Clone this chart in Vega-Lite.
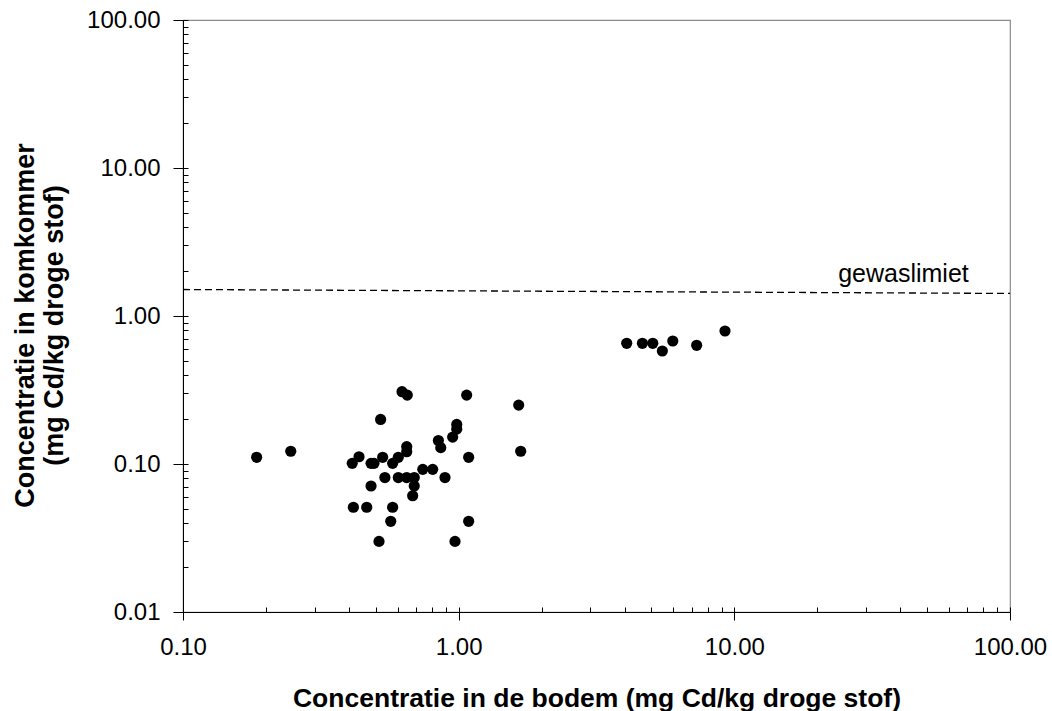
{
  "$schema": "https://vega.github.io/schema/vega-lite/v6.json",
  "width": 827,
  "height": 592,
  "autosize": "none",
  "padding": {"left": 183, "top": 20, "right": 42, "bottom": 99},
  "background": "white",
  "config": {
    "font": "Liberation Sans",
    "view": {"stroke": "#8a8a8a", "strokeWidth": 1.2},
    "axis": {"grid": false, "domainColor": "black", "tickColor": "black", "labelColor": "black", "titleColor": "black", "labelFont": "Liberation Sans", "titleFont": "Liberation Sans"}
  },
  "datasets": {
    "points": [
      {"x": 0.185, "y": 0.111}, {"x": 0.246, "y": 0.122}, {"x": 0.411, "y": 0.101}, {"x": 0.435, "y": 0.112},
      {"x": 0.481, "y": 0.101}, {"x": 0.493, "y": 0.101}, {"x": 0.530, "y": 0.111}, {"x": 0.521, "y": 0.200},
      {"x": 0.623, "y": 0.308}, {"x": 0.651, "y": 0.292}, {"x": 1.069, "y": 0.292}, {"x": 1.651, "y": 0.250},
      {"x": 1.679, "y": 0.122}, {"x": 1.087, "y": 0.111}, {"x": 0.984, "y": 0.185}, {"x": 0.984, "y": 0.172},
      {"x": 0.951, "y": 0.152}, {"x": 0.844, "y": 0.144}, {"x": 0.861, "y": 0.129}, {"x": 0.648, "y": 0.131},
      {"x": 0.648, "y": 0.121}, {"x": 0.604, "y": 0.111}, {"x": 0.576, "y": 0.101}, {"x": 0.540, "y": 0.081},
      {"x": 0.604, "y": 0.081}, {"x": 0.648, "y": 0.081}, {"x": 0.690, "y": 0.081}, {"x": 0.690, "y": 0.071},
      {"x": 0.741, "y": 0.092}, {"x": 0.805, "y": 0.092}, {"x": 0.892, "y": 0.081}, {"x": 0.481, "y": 0.071},
      {"x": 0.681, "y": 0.061}, {"x": 0.415, "y": 0.051}, {"x": 0.464, "y": 0.051}, {"x": 0.576, "y": 0.051},
      {"x": 0.567, "y": 0.041}, {"x": 1.087, "y": 0.041}, {"x": 0.514, "y": 0.030}, {"x": 0.970, "y": 0.030},
      {"x": 4.07, "y": 0.654}, {"x": 4.64, "y": 0.654}, {"x": 5.06, "y": 0.654}, {"x": 5.48, "y": 0.580},
      {"x": 5.98, "y": 0.678}, {"x": 7.30, "y": 0.634}, {"x": 9.25, "y": 0.792}
    ],
    "limit": [{"x": 0.1, "y": 1.51}, {"x": 100, "y": 1.42}],
    "label": [{"x": 23.8, "y": 1.70, "text": "gewaslimiet"}]
  },
  "layer": [
    {
      "data": {"name": "points"},
      "mark": {"type": "point", "filled": true, "shape": "circle", "size": 125, "color": "black", "opacity": 1},
      "encoding": {
        "x": {"field": "x", "type": "quantitative",
          "scale": {"type": "log", "domain": [0.1, 100], "nice": false},
          "axis": {"orient": "bottom", "values": [0.1, 1, 10, 100], "format": ".2f", "tickSize": 8, "labelFontSize": 24, "labelPadding": 15, "labelFlush": false, "labelOverlap": false,
            "title": "Concentratie in de bodem (mg Cd/kg droge stof)", "titleFontSize": 26.5, "titleFontWeight": "bold", "titleY": 94, "titleBaseline": "alphabetic"}},
        "y": {"field": "y", "type": "quantitative",
          "scale": {"type": "log", "domain": [0.01, 100], "nice": false},
          "axis": {"orient": "left", "values": [0.01, 0.1, 1, 10, 100], "format": ".2f", "tickSize": 10, "labelFontSize": 24, "labelPadding": 13, "labelFlush": false, "labelOverlap": false,
            "title": ["Concentratie in komkommer", "(mg Cd/kg droge stof)"], "titleFontSize": 27, "titleFontWeight": "bold", "titleX": -150, "titleY": 305, "titleBaseline": "alphabetic", "titleLineHeight": 29}}
      }
    },
    {
      "data": {"name": "limit"},
      "mark": {"type": "line", "color": "black", "strokeDash": [7, 4], "strokeWidth": 1.3},
      "encoding": {
        "x": {"field": "x", "type": "quantitative",
          "scale": {"type": "log", "domain": [0.1, 100], "nice": false},
          "axis": {"orient": "bottom", "values": [0.1, 0.2, 0.3, 0.4, 0.5, 0.6, 0.7, 0.8, 0.9, 1, 2, 3, 4, 5, 6, 7, 8, 9, 10, 20, 30, 40, 50, 60, 70, 80, 90, 100], "tickSize": -5, "labels": false, "domain": false, "title": null}},
        "y": {"field": "y", "type": "quantitative",
          "scale": {"type": "log", "domain": [0.01, 100], "nice": false},
          "axis": {"orient": "left", "values": [0.01, 0.02, 0.03, 0.04, 0.05, 0.06, 0.07, 0.08, 0.09, 0.1, 0.2, 0.3, 0.4, 0.5, 0.6, 0.7, 0.8, 0.9, 1, 2, 3, 4, 5, 6, 7, 8, 9, 10, 20, 30, 40, 50, 60, 70, 80, 90, 100], "tickSize": -5, "labels": false, "domain": false, "title": null}}
      }
    },
    {
      "data": {"name": "label"},
      "mark": {"type": "text", "align": "left", "baseline": "alphabetic", "fontSize": 25, "font": "Liberation Sans", "color": "black"},
      "encoding": {
        "x": {"field": "x", "type": "quantitative", "scale": {"type": "log", "domain": [0.1, 100], "nice": false}, "axis": null},
        "y": {"field": "y", "type": "quantitative", "scale": {"type": "log", "domain": [0.01, 100], "nice": false}, "axis": null},
        "text": {"field": "text"}
      }
    }
  ],
  "resolve": {"axis": {"x": "independent", "y": "independent"}}
}
